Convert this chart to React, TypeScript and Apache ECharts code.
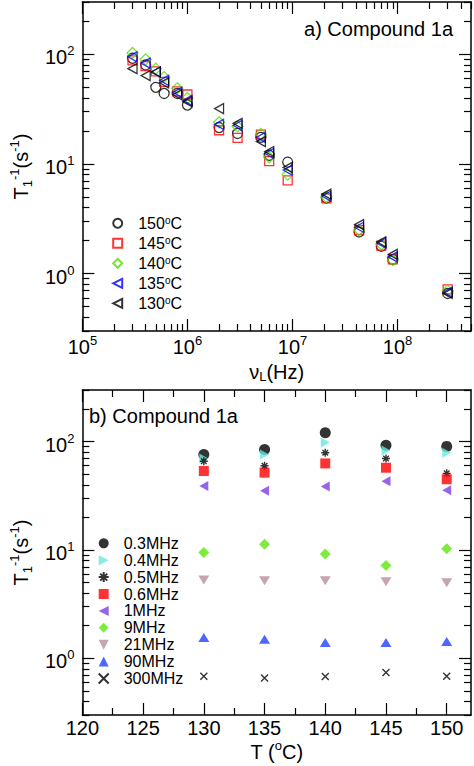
import React, { useEffect, useRef } from 'react';
import * as echarts from 'echarts';

const FONT = '"Liberation Sans", Arial, Helvetica, sans-serif';

// ---------- panel a) : relaxation rate vs Larmor frequency ----------
const frequenciesHz = [3e5, 4e5, 5e5, 6e5, 8e5, 1e6, 2e6, 3e6, 5e6, 6e6, 9e6, 2.1e7, 4.3e7, 7e7, 9e7, 3e8];
const rate150C = [92, 80, 50, 44, 44, 34.5, 21.5, 19, 17.5, 12, 10.4, 4.9, 2.4, 1.78, 1.35, 0.66];
const rate145C = [88, 78, 70, 56, 46, 43, 20.3, 17.3, 18.5, 10.6, 7.1, 4.85, 2.5, 1.8, 1.35, 0.72];
const rate140C = [103, 90, 74, 62, 49, 40, 24, 22, 18.8, 11.5, 8, 5.0, 2.5, 1.85, 1.33, 0.7];
const rate135C = [95, 83, 69, 58, 45, 38, 23, 22.5, 17.5, 12.5, 8.8, 5.1, 2.65, 1.9, 1.42, 0.68];
const rate130C = [74, 64, 69, 55, 43, 37, 32, 23.5, 16, 13, 9.3, 5.3, 2.8, 1.95, 1.5, 0.66];

// ---------- panel b) : relaxation rate vs temperature ----------
const temperaturesC = [130, 135, 140, 145, 150];
const rate03MHz = [76, 84.5, 121, 92.5, 90.5];
const rate04MHz = [70, 76, 98.5, 83, 79];
const rate05MHz = [66, 60, 79, 70, 51];
const rate06MHz = [53.6, 51.8, 63, 57.5, 45];
const rate1MHz = [39, 35.2, 38.5, 43.2, 35.7];
const rate9MHz = [9.5, 11.3, 9.2, 7.2, 10.3];
const rate21MHz = [5.3, 5.2, 5.2, 5.1, 5.0];
const rate90MHz = [1.56, 1.5, 1.4, 1.4, 1.43];
const rate300MHz = [0.685, 0.66, 0.68, 0.74, 0.685];

// axis ticks
const freqMajorTicks = [1e5, 1e6, 1e7, 1e8];
const freqMinorTicks = [5, 6, 7, 8].flatMap((e) => [2, 3, 4, 5, 6, 7, 8, 9].map((m) => m * Math.pow(10, e))).filter((v) => v <= 5e8);
const rateMajorTicks = [1, 10, 100];
const rateMinorTicks = [-1, 0, 1, 2].flatMap((e) => [2, 3, 4, 5, 6, 7, 8, 9].map((m) => +(m * Math.pow(10, e)).toPrecision(3))).filter((v) => v >= 0.3 && v <= 300);
const tempMajorTicks = [120, 125, 130, 135, 140, 145, 150];
const tempMinorTicks = [122.5, 127.5, 132.5, 137.5, 142.5, 147.5];

const leftTri = 'path://M0,5L10,0L10,10Z';
const rightTri = 'path://M10,5L0,0L0,10Z';
const downTri = 'path://M0,0L10,0L5,10Z';
const upTri = 'path://M5,0L10,10L0,10Z';
const asterisk = 'path://M5,0L5,10M0,5L10,5M1.5,1.5L8.5,8.5M1.5,8.5L8.5,1.5';
const cross = 'path://M0,0L10,10M0,10L10,0';

const topSeriesDefs = [
  { name: '150°C', values: rate150C, symbol: 'circle', size: 10, color: '#000000' },
  { name: '145°C', values: rate145C, symbol: 'rect', size: 9, color: '#ff0000' },
  { name: '140°C', values: rate140C, symbol: 'diamond', size: 11, color: '#55dd00' },
  { name: '135°C', values: rate135C, symbol: leftTri, size: [9, 10], color: '#0000ff' },
  { name: '130°C', values: rate130C, symbol: leftTri, size: [9, 10], color: '#000000' },
];

const bottomSeriesDefs = [
  { name: '0.3MHz', values: rate03MHz, symbol: 'circle', size: 11, color: '#000000', line: false },
  { name: '0.4MHz', values: rate04MHz, symbol: rightTri, size: [9, 10], color: '#66e8dc', line: false },
  { name: '0.5MHz', values: rate05MHz, symbol: asterisk, size: 8, color: '#000000', line: true },
  { name: '0.6MHz', values: rate06MHz, symbol: 'rect', size: 10, color: '#ff0000', line: false },
  { name: '1MHz', values: rate1MHz, symbol: leftTri, size: [9, 10], color: '#7a3de6', line: false },
  { name: '9MHz', values: rate9MHz, symbol: 'diamond', size: 11, color: '#5fe60f', line: false },
  { name: '21MHz', values: rate21MHz, symbol: downTri, size: [11, 9], color: '#b98e98', line: false },
  { name: '90MHz', values: rate90MHz, symbol: upTri, size: [11, 9], color: '#2040ff', line: false },
  { name: '300MHz', values: rate300MHz, symbol: cross, size: 7, color: '#000000', line: true },
];

const lineStyle = { color: '#000', width: 1.5 };
const tickStyle = { color: '#000', width: 1.2 };

const powRich = {
  b: { fontSize: 20, lineHeight: 26, fontFamily: FONT, color: '#000' },
  s: { fontSize: 13, lineHeight: 10, verticalAlign: 'top', fontFamily: FONT, color: '#000' },
};
const powLabel = (v: number) => `{b|10}{s|${Math.round(Math.log10(v))}}`;

const nameRich = {
  sub: { fontSize: 13, lineHeight: 6, verticalAlign: 'bottom', fontFamily: FONT, color: '#000' },
  sup: { fontSize: 13, lineHeight: 10, verticalAlign: 'top', fontFamily: FONT, color: '#000' },
};

function makeAxes(
  dim: 'x' | 'y',
  gridIndex: number,
  scale: any,
  majors: number[],
  minors: number[],
  label: any,
  nameCfg: any
) {
  const common = { gridIndex, ...scale, splitLine: { show: false }, axisPointer: { show: false }, silent: true };
  const pos = dim === 'x' ? ['bottom', 'top'] : ['left', 'right'];
  return [
    {
      ...common,
      position: pos[0],
      axisLine: { show: true, onZero: false, lineStyle },
      axisTick: { show: true, inside: true, length: 12, customValues: majors, lineStyle: tickStyle },
      axisLabel: { show: true, customValues: majors, ...label },
      ...nameCfg,
    },
    {
      ...common,
      position: pos[0],
      axisLine: { show: false, onZero: false },
      axisTick: { show: true, inside: true, length: 7, customValues: minors, lineStyle: tickStyle },
      axisLabel: { show: false },
    },
    {
      ...common,
      position: pos[1],
      axisLine: { show: true, onZero: false, lineStyle },
      axisTick: { show: true, inside: true, length: 12, customValues: majors, lineStyle: tickStyle },
      axisLabel: { show: false },
    },
    {
      ...common,
      position: pos[1],
      axisLine: { show: false, onZero: false },
      axisTick: { show: true, inside: true, length: 7, customValues: minors, lineStyle: tickStyle },
      axisLabel: { show: false },
    },
  ];
}

const yLabel = {
  formatter: powLabel,
  rich: powRich,
  margin: 8,
  padding: [6, 0, 0, 0],
};
const yName = {
  name: 'T{sub|1}{sup|-1}(s{sup|-1})',
  nameLocation: 'middle',
  nameGap: 40,
  nameTextStyle: { fontSize: 20, lineHeight: 26, fontFamily: FONT, color: '#000', rich: nameRich },
};

function buildOption() {
  const xAxes = [
    ...makeAxes('x', 0, { type: 'log', logBase: 10, min: 1e5, max: 5e8 }, freqMajorTicks, freqMinorTicks,
      { formatter: powLabel, rich: powRich, margin: 3 },
      {
        name: 'ν{sub|L}(Hz)',
        nameLocation: 'middle',
        nameGap: 30,
        nameTextStyle: { fontSize: 20, lineHeight: 22, fontFamily: FONT, color: '#000', rich: nameRich },
      }),
    ...makeAxes('x', 1, { type: 'value', min: 120, max: 152 }, tempMajorTicks, tempMinorTicks,
      { fontSize: 20, lineHeight: 20, fontFamily: FONT, color: '#000', margin: 3 },
      {
        name: 'T ({sup|o}C)',
        nameLocation: 'middle',
        nameGap: 24,
        nameTextStyle: { fontSize: 20, lineHeight: 26, fontFamily: FONT, color: '#000', rich: nameRich },
      }),
  ];
  const yAxes = [
    ...makeAxes('y', 0, { type: 'log', logBase: 10, min: 0.3, max: 300 }, rateMajorTicks, rateMinorTicks, yLabel, yName),
    ...makeAxes('y', 1, { type: 'log', logBase: 10, min: 0.3, max: 300 }, rateMajorTicks, rateMinorTicks, yLabel, yName),
  ];

  const series: any[] = [];
  topSeriesDefs.forEach((d) => {
    series.push({
      type: 'scatter',
      name: d.name,
      xAxisIndex: 0,
      yAxisIndex: 0,
      symbol: d.symbol,
      symbolSize: d.size,
      data: frequenciesHz.map((f, i) => [f, d.values[i]]),
      itemStyle: { color: 'rgba(0,0,0,0)', borderColor: d.color, borderWidth: 1.3 },
      emphasis: { disabled: true },
    });
  });
  bottomSeriesDefs.forEach((d) => {
    series.push({
      type: 'scatter',
      name: d.name,
      xAxisIndex: 4,
      yAxisIndex: 4,
      symbol: d.symbol,
      symbolSize: d.size,
      data: temperaturesC.map((t, i) => [t, d.values[i]]),
      itemStyle: d.line
        ? { color: d.color, borderColor: d.color, borderWidth: 1.4 }
        : { color: d.color, borderWidth: 0 },
      emphasis: { disabled: true },
    });
  });

  const legendText = (size: number, gap: number) => ({
    fontSize: size,
    fontFamily: FONT,
    color: '#000',
    rich: {
      gap: { width: gap },
      sup: { fontSize: 10, lineHeight: 6, verticalAlign: 'top', fontFamily: FONT, color: '#000' },
    },
  });

  return {
    animation: false,
    backgroundColor: '#ffffff',
    textStyle: { fontFamily: FONT },
    title: [
      {
        text: 'a) Compound 1a',
        right: 21,
        top: 19,
        padding: 0,
        textStyle: { fontSize: 20, lineHeight: 20, fontWeight: 'normal', fontFamily: FONT, color: '#000' },
      },
      {
        text: 'b) Compound 1a',
        left: 89,
        top: 406,
        padding: 0,
        textStyle: { fontSize: 20, lineHeight: 20, fontWeight: 'normal', fontFamily: FONT, color: '#000' },
      },
    ],
    grid: [
      { left: 70, top: 2, width: 401, height: 329, containLabel: false },
      { left: 70, top: 390, width: 401, height: 328, containLabel: false },
    ],
    legend: [
      {
        data: topSeriesDefs.map((d) => d.name),
        orient: 'vertical',
        left: 112.2,
        top: 215.3,
        padding: 0,
        itemWidth: 9,
        itemHeight: 9,
        itemGap: 4,
        selectedMode: false,
        formatter: (n: string) => '{gap| }' + n.replace('°', '{sup|o}'),
        textStyle: legendText(16, 11),
      },
      {
        data: bottomSeriesDefs.map((d) => d.name),
        orient: 'vertical',
        left: 97.7,
        top: 535.3,
        padding: 0,
        itemWidth: 10,
        itemHeight: 10,
        itemGap: 0.9,
        selectedMode: false,
        formatter: (n: string) => '{gap| }' + n,
        textStyle: legendText(16, 10),
      },
    ],
    xAxis: xAxes,
    yAxis: yAxes,
    series,
  };
}

export default function App() {
  const ref = useRef<HTMLDivElement>(null);
  useEffect(() => {
    if (!ref.current) return;
    const chart = echarts.init(ref.current, null, { renderer: 'svg' });
    chart.setOption(buildOption() as any);
    return () => chart.dispose();
  }, []);
  return (
    <div
      ref={ref}
      style={{ position: 'fixed', left: 0, top: 0, width: 474, height: 766, background: '#fff' }}
    />
  );
}
